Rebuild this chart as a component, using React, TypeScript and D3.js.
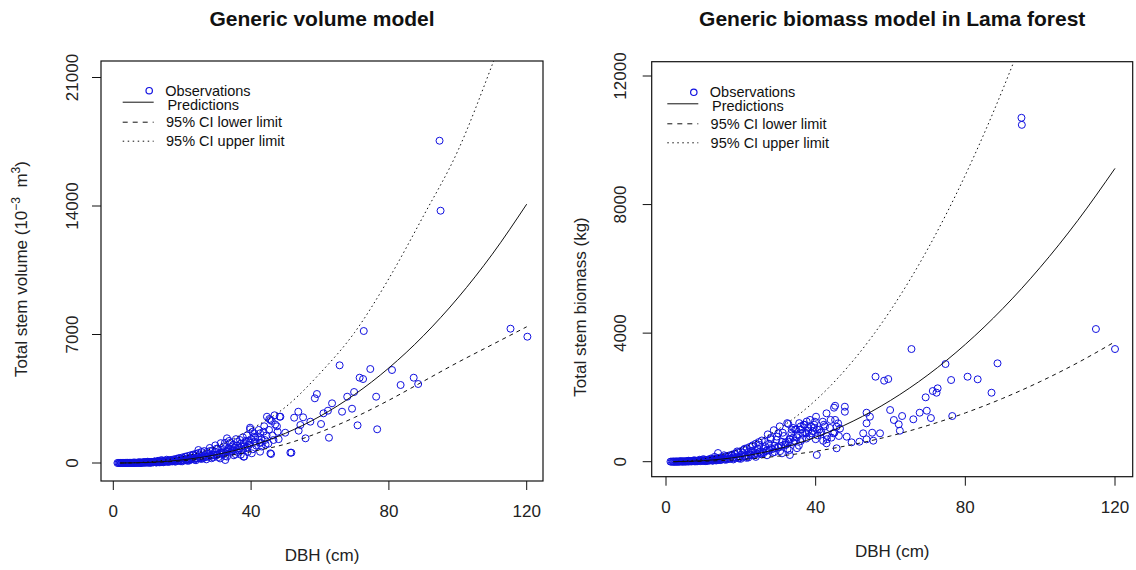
import React from 'react';
import * as d3 from 'd3';

// DBH grid used for the fitted curves
const curveDbh = [2, 10, 20, 30, 40, 50, 60, 70, 80, 90, 100, 110, 120];

// volume model (10^-3 m3)
const volPred = [0.6, 30, 169, 459, 935, 1622, 2545, 3725, 5179, 6927, 8988, 11373, 14100];
const volLower = [0.4, 22, 120, 315, 620, 1030, 1680, 2480, 3420, 4450, 5480, 6450, 7420];
const volUpper = [1.2, 58, 330, 890, 1850, 3050, 4886, 7100, 10050, 13450, 17000, 21700, 26870];

// biomass model (kg)
const bioPred = [0.9, 33, 159, 398, 762, 1262, 1906, 2699, 3650, 4763, 6044, 7497, 9126];
const bioLower = [0.4, 15, 70, 172, 326, 535, 801, 1128, 1518, 1971, 2491, 3077, 3733];
const bioUpper = [2.5, 88, 411, 1010, 1913, 3142, 4709, 6629, 8918, 11583, 14636, 18080, 21935];

const xTicks = [0, 40, 80, 120];
const volTicks = [0, 7000, 14000, 21000];
const bioTicks = [0, 4000, 8000, 12000];

const legendLabels = ['Observations', 'Predictions', '95% CI lower limit', '95% CI upper limit'];

// observations [dbh, volume]
const volObs: [number, number][] = [
  [1.2, 1], [1.8, 1], [2.2, 2], [2.6, 2], [3.0, 3], [3.4, 3], [3.8, 4], [4.2, 5], [4.6, 6], [5.0, 7],
  [5.4, 8], [5.8, 9], [6.2, 11], [6.6, 12], [7.0, 14], [7.4, 16], [7.8, 18], [8.2, 20], [8.6, 23], [9.0, 26],
  [9.4, 29], [9.8, 32], [10.2, 35], [10.6, 38], [11.0, 42], [11.4, 46], [11.8, 50], [12.2, 55], [12.6, 60], [13.0, 65],
  [13.4, 70], [13.8, 76], [14.2, 82], [14.6, 88], [15.0, 95],
  [4, 12], [6, 25], [7.5, 35], [9, 50], [10, 70], [11, 20], [12, 90], [13, 120], [14, 160], [14.5, 40],
  [15.5, 180], [8, 8], [10.5, 15], [12.5, 25], [13.5, 35],
  [16, 100], [16.5, 140], [17, 90], [17.5, 160], [18, 120], [18.5, 200], [19, 150], [19.5, 100], [20, 180], [20.5, 240],
  [21, 160], [21.5, 120], [22, 260], [22.5, 200], [23, 300], [23.5, 180], [24, 250], [24.5, 350], [25, 290], [25.5, 220],
  [16, 60], [18, 70], [20, 90], [22, 130], [24, 150], [19, 260], [21, 330], [23, 420], [25, 460], [26, 360],
  [26, 250], [26.5, 420], [27, 330], [27.5, 500], [28, 380], [28.5, 260], [29, 450], [29.5, 600], [30, 420], [30.5, 320],
  [31, 550], [31.5, 700], [32, 480], [32.5, 380], [33, 640], [33.5, 800], [34, 560], [34.5, 900], [35, 700], [35.5, 480],
  [27, 200], [29, 300], [31, 250], [33, 350], [35, 420], [28, 650], [30, 780], [32, 900], [34, 1100], [36, 950],
  [24.7, 708], [33, 1345], [32.5, 163], [37.8, 343],
  [36, 600], [36.5, 800], [37, 1050], [37.5, 700], [38, 900], [38.5, 1200], [39, 850], [39.5, 1000], [40, 1300], [40.5, 750],
  [41, 1150], [41.5, 950], [42, 1400], [42.5, 1100], [43, 900], [44, 1250], [44.5, 1500], [45, 1050], [37, 450], [38, 350],
  [39, 600], [39.7, 1923], [41, 1600], [42.6, 1618], [44.6, 2522], [45.6, 2342], [48.5, 2522], [51.4, 561], [45.6, 528],
  [1.5, 2], [2.0, 3], [2.4, 1], [2.8, 4], [3.2, 2], [3.6, 6], [4.4, 3], [4.8, 9], [5.2, 5], [5.6, 12],
  [6.0, 7], [6.4, 16], [6.8, 9], [7.2, 22], [7.6, 12], [8.0, 28], [8.4, 15], [8.8, 35], [9.2, 18], [9.6, 42],
  [10.0, 22], [10.4, 50], [10.8, 27], [11.2, 60], [11.6, 32], [12.0, 70], [12.4, 38], [12.8, 85], [13.2, 45], [13.6, 100],
  [14.0, 52], [14.4, 115], [14.8, 60], [15.2, 130], [15.6, 70], [16.0, 150], [16.4, 80], [16.8, 170], [17.2, 95], [17.6, 200],
  [18.0, 105], [18.4, 230], [18.8, 120], [19.2, 260], [19.6, 135], [20, 300], [20.4, 150], [20.8, 340], [21.2, 170], [21.6, 380],
  [22, 190], [22.4, 420], [22.8, 210], [23.2, 460], [23.6, 230], [24, 500], [24.4, 250], [24.8, 550], [25.2, 270], [25.6, 600],
  [26, 300], [26.4, 650], [26.8, 330], [27.2, 600], [27.6, 360], [28, 820], [28.4, 390], [28.8, 680], [29.2, 420], [29.6, 960],
  [30, 450], [30.4, 780], [30.8, 490], [31.2, 1080], [31.6, 530], [32, 600], [32.4, 1100], [32.8, 620], [33.2, 700], [33.6, 1200],
  [34, 750], [34.4, 650], [34.8, 1000], [35.2, 850], [35.6, 1300], [36, 1150], [36.4, 700], [36.8, 1250], [37.2, 900], [37.6, 1400],
  [38, 1100], [38.4, 800], [38.8, 1500], [39.2, 1200], [39.6, 1100], [40.4, 1700], [41.2, 1400], [42.2, 1800], [43, 1300], [43.8, 2000],
  [44.2, 1000], [45.2, 1800], [46.2, 1500], [47, 2100], [48, 1300], [46.8, 2600], [47.5, 2000],
  [94.7, 17556], [95.0, 13743], [115.3, 7316], [120.2, 6880], [72.7, 7190], [65.7, 5322], [74.6, 5120], [80.9, 5066],
  [71.5, 4646], [72.5, 4575], [87.2, 4646], [88.5, 4303], [83.4, 4249], [59.1, 3758], [58.5, 3524], [69.9, 3867],
  [67.9, 3612], [76.3, 3612], [63.5, 3252], [62.3, 2849], [61.0, 2707], [66.4, 2794], [69.3, 2958], [60.3, 2124],
  [70.9, 2053], [76.6, 1836], [62.6, 1378], [53.7, 2794], [48.3, 2522], [45.3, 2397], [46.0, 2288], [52.5, 2468],
  [55.1, 2489], [57.2, 2250], [54.3, 2070], [53.8, 1759], [55.8, 1345], [51.7, 561], [45.8, 490], [49.9, 1650],
  [47.7, 1705], [42.8, 1106], [42.6, 616], [39.7, 1836], [40.8, 1433], [43.6, 1705], [46.5, 1253], [40.2, 528],
];

// observations [dbh, biomass]
const bioObs: [number, number][] = [
  [1.2, 1], [1.8, 2], [2.2, 2], [2.6, 3], [3.0, 3], [3.4, 4], [3.8, 5], [4.2, 6], [4.6, 7], [5.0, 8],
  [5.4, 9], [5.8, 11], [6.2, 12], [6.6, 14], [7.0, 16], [7.4, 18], [7.8, 20], [8.2, 22], [8.6, 25], [9.0, 28],
  [9.4, 31], [9.8, 34], [10.2, 37], [10.6, 40], [11.0, 44], [11.4, 48], [11.8, 52], [12.2, 57], [12.6, 62], [13.0, 67],
  [13.4, 72], [13.8, 78], [14.2, 84], [14.6, 90], [15.0, 96],
  [4, 15], [6, 30], [7.5, 45], [9, 60], [10, 80], [11, 25], [12, 100], [13, 150], [13.9, 270], [14.5, 50],
  [15.5, 200], [8, 10], [10.5, 18], [12.5, 30], [13.5, 40],
  [16, 110], [16.5, 160], [17, 90], [17.5, 190], [18, 130], [18.5, 230], [19, 160], [19.5, 100], [20, 210], [20.5, 280],
  [21, 170], [21.5, 120], [22, 300], [22.5, 220], [23, 340], [23.5, 190], [24, 280], [24.5, 400], [25, 310], [25.5, 230],
  [16, 60], [18, 70], [20, 90], [22, 130], [24, 150], [19, 320], [21, 400], [23, 480], [25, 520], [26, 400],
  [26, 260], [26.5, 480], [27, 360], [27.5, 560], [28, 420], [28.5, 280], [29, 500], [29.5, 680], [30, 460], [30.5, 330],
  [31, 620], [31.5, 800], [32, 520], [32.5, 400], [33, 700], [33.5, 900], [34, 600], [34.5, 1000], [35, 760], [35.5, 500],
  [27, 200], [29, 300], [31, 260], [33, 360], [35, 420], [28, 740], [30, 880], [32.7, 1173], [34, 1050], [36, 1100],
  [36, 640], [36.5, 880], [37, 1150], [37.5, 720], [38, 960], [38.5, 1300], [39, 880], [39.5, 1050], [40, 700], [40.5, 820],
  [41, 1000], [41.5, 920], [42, 650], [42.5, 1100], [43, 800], [44, 1300], [45, 900], [37.6, 883], [40.3, 208], [33.1, 208],
  [42.9, 572], [45.6, 417],
  [1.5, 2], [2.0, 3], [2.4, 1], [2.8, 5], [3.2, 2], [3.6, 7], [4.4, 3], [4.8, 10], [5.2, 5], [5.6, 14],
  [6.0, 7], [6.4, 18], [6.8, 9], [7.2, 25], [7.6, 12], [8.0, 32], [8.4, 15], [8.8, 40], [9.2, 18], [9.6, 48],
  [10.0, 22], [10.4, 56], [10.8, 27], [11.2, 66], [11.6, 32], [12.0, 78], [12.4, 38], [12.8, 95], [13.2, 45], [13.6, 110],
  [14.0, 52], [14.4, 125], [14.8, 60], [15.2, 145], [15.6, 70], [16.0, 170], [16.4, 80], [16.8, 190], [17.2, 95], [17.6, 220],
  [18.0, 105], [18.4, 250], [18.8, 120], [19.2, 290], [19.6, 135], [20, 330], [20.4, 150], [20.8, 370], [21.2, 170], [21.6, 420],
  [22, 190], [22.4, 460], [22.8, 210], [23.2, 510], [23.6, 230], [24, 560], [24.4, 250], [24.8, 610], [25.2, 270], [25.6, 660],
  [26, 300], [26.4, 620], [26.8, 330], [27.2, 850], [27.6, 360], [28, 700], [28.4, 390], [28.8, 980], [29.2, 420], [29.6, 780],
  [30, 450], [30.4, 1100], [30.8, 490], [31.2, 900], [31.6, 530], [32, 600], [32.4, 1200], [32.8, 620], [33.2, 700], [33.6, 1000],
  [34, 750], [34.4, 650], [34.8, 1000], [35.2, 850], [35.6, 1200], [36, 1000], [36.4, 700], [36.8, 1150], [37.2, 900], [37.6, 1250],
  [38, 1050], [38.4, 800], [38.8, 1100], [39.2, 950], [39.6, 1150], [40.4, 1000], [41.2, 900], [42.2, 1150], [43, 700], [43.8, 1050],
  [44.2, 750], [45.2, 1300], [46.2, 800],
  [114.9, 4128], [120.0, 3505], [65.6, 3505], [56.0, 2644], [58.3, 2520], [59.4, 2572], [74.7, 3039], [88.6, 3061],
  [80.6, 2644], [83.3, 2563], [76.2, 2541], [87.0, 2146], [72.6, 2283], [71.3, 2199], [72.3, 2146], [69.4, 2003],
  [59.9, 1608], [67.8, 1524], [69.7, 1586], [70.8, 1359], [76.5, 1421], [66.1, 1319], [63.1, 1421], [60.9, 1297],
  [62.2, 1163], [62.5, 964], [53.6, 1524], [54.5, 1400], [53.6, 1194], [52.7, 883], [55.1, 902], [57.2, 883],
  [55.4, 653], [53.6, 697], [51.7, 622], [49.6, 603], [47.8, 1711], [44.9, 1680], [45.2, 1740], [42.9, 1505],
  [40.1, 1400], [39.8, 1244], [41.9, 1244], [47.8, 1555], [46.0, 1194], [45.6, 1089], [46.5, 1030], [44.7, 883],
  [48.3, 778], [95.0, 10700], [95.1, 10480],
];

const font = '"Liberation Sans", Arial, Helvetica, sans-serif';
const ink = '#111';
const dotBlue = '#1010e0';

type PanelProps = {
  title: string;
  yLabel: React.ReactNode;
  yLabelY: number;
  obs: [number, number][];
  pred: number[];
  lower: number[];
  upper: number[];
  yTicks: number[];
  box: { x0: number; x1: number; y0: number; y1: number };
  xRange: [number, number];
  yRange: [number, number];
  yLabelX: number;
  tickLabelX: number;
  legendPos: { x: number; y: number };
  id: string;
  titleY: number;
};

function Panel(p: PanelProps) {
  const x = d3.scaleLinear().domain([0, 120]).range(p.xRange);
  const y = d3.scaleLinear().domain([p.yTicks[0], p.yTicks[p.yTicks.length - 1]]).range(p.yRange);
  const line = d3
    .line<number>()
    .x((_, i) => x(curveDbh[i]))
    .y((v) => y(v))
    .curve(d3.curveMonotoneX);
  const { x0, x1, y0, y1 } = p.box;
  const cx = (x0 + x1) / 2;
  const lg = p.legendPos;
  return (
    <g fontFamily={font}>
      <defs>
        <clipPath id={p.id}>
          <rect x={x0} y={y0} width={x1 - x0} height={y1 - y0} />
        </clipPath>
      </defs>
      <text x={cx} y={p.titleY} textAnchor="middle" fontWeight="bold" fontSize={21} fill="#111">
        {p.title}
      </text>
      <g clipPath={`url(#${p.id})`}>
        {p.obs.map((d, i) => (
          <circle key={i} cx={x(d[0])} cy={y(d[1])} r={3.5} fill="none" stroke={dotBlue} strokeWidth={1} />
        ))}
        <path d={line(p.pred) || ''} fill="none" stroke={ink} strokeWidth={1} />
        <path d={line(p.lower) || ''} fill="none" stroke={ink} strokeWidth={1} strokeDasharray="4,4" />
        <path d={line(p.upper) || ''} fill="none" stroke={ink} strokeWidth={1} strokeDasharray="1.5,3" />
      </g>
      <rect x={x0} y={y0} width={x1 - x0} height={y1 - y0} fill="none" stroke={ink} strokeWidth={1.2} />
      {xTicks.map((t) => (
        <g key={t}>
          <line x1={x(t)} x2={x(t)} y1={y1} y2={y1 + 9} stroke={ink} />
          <text x={x(t)} y={y1 + 36} textAnchor="middle" fontSize={17} fill="#222">
            {t}
          </text>
        </g>
      ))}
      <text x={cx} y={y1 + 80} textAnchor="middle" fontSize={17} fill="#222">
        DBH (cm)
      </text>
      {p.yTicks.map((t) => (
        <g key={t}>
          <line x1={x0 - 9} x2={x0} y1={y(t)} y2={y(t)} stroke={ink} />
          <text
            transform={`translate(${p.tickLabelX},${y(t)}) rotate(-90)`}
            textAnchor="middle"
            dy="0.35em"
            fontSize={17}
            fill="#222"
          >
            {t}
          </text>
        </g>
      ))}
      <text
        transform={`translate(${p.yLabelX},${p.yLabelY}) rotate(-90)`}
        textAnchor="middle"
        dy="0.35em"
        fontSize={17}
        fill="#222"
      >
        {p.yLabel}
      </text>
      {/* legend */}
      <g fontSize={14.5} fill="#111">
        <circle cx={lg.x + 26.5} cy={lg.y} r={3.2} fill="none" stroke={dotBlue} strokeWidth={1.2} />
        <text x={lg.x + 42.5} y={lg.y + 5}>{legendLabels[0]}</text>
        <line x1={lg.x} x2={lg.x + 31} y1={lg.y + 11.5} y2={lg.y + 11.5} stroke={ink} />
        <text x={lg.x + 44.7} y={lg.y + 19}>{legendLabels[1]}</text>
        <line x1={lg.x} x2={lg.x + 31} y1={lg.y + 31.5} y2={lg.y + 31.5} stroke={ink} strokeDasharray="5,5" />
        <text x={lg.x + 43.3} y={lg.y + 36.5}>{legendLabels[2]}</text>
        <line x1={lg.x} x2={lg.x + 31} y1={lg.y + 50.5} y2={lg.y + 50.5} stroke={ink} strokeDasharray="1.5,3.5" />
        <text x={lg.x + 43.3} y={lg.y + 55.5}>{legendLabels[3]}</text>
      </g>
    </g>
  );
}

export default function App() {
  const volLabel = (
    <>
      Total stem volume (10
      <tspan dy={-7} fontSize={12}>−3</tspan>
      <tspan dy={7}>{'\u00a0\u00a0'}m</tspan>
      <tspan dy={-7} fontSize={12}>3</tspan>
      <tspan dy={7}>)</tspan>
    </>
  );
  return (
    <svg
      width={1136}
      height={570}
      style={{ position: 'absolute', left: 0, top: 0, background: '#fff' }}
    >
      <rect width={1136} height={570} fill="#fff" />
      <Panel
        id="clipL"
        title="Generic volume model"
        titleY={26}
        yLabel={volLabel}
        yLabelX={21}
        yLabelY={269}
        obs={volObs}
        pred={volPred}
        lower={volLower}
        upper={volUpper}
        yTicks={volTicks}
        box={{ x0: 101, x1: 543, y0: 61, y1: 481 }}
        xRange={[113.3, 526.7]}
        yRange={[463, 77.5]}
        tickLabelX={72}
        legendPos={{ x: 122.7, y: 90.7 }}
      />
      <Panel
        id="clipR"
        title="Generic biomass model in Lama forest"
        titleY={26}
        yLabel="Total stem biomass (kg)"
        yLabelX={580}
        yLabelY={307}
        obs={bioObs}
        pred={bioPred}
        lower={bioLower}
        upper={bioUpper}
        yTicks={bioTicks}
        box={{ x0: 651.7, x1: 1132.7, y0: 61.7, y1: 476.7 }}
        xRange={[666, 1115]}
        yRange={[461.7, 76]}
        tickLabelX={620}
        legendPos={{ x: 667.3, y: 92.3 }}
      />
    </svg>
  );
}
